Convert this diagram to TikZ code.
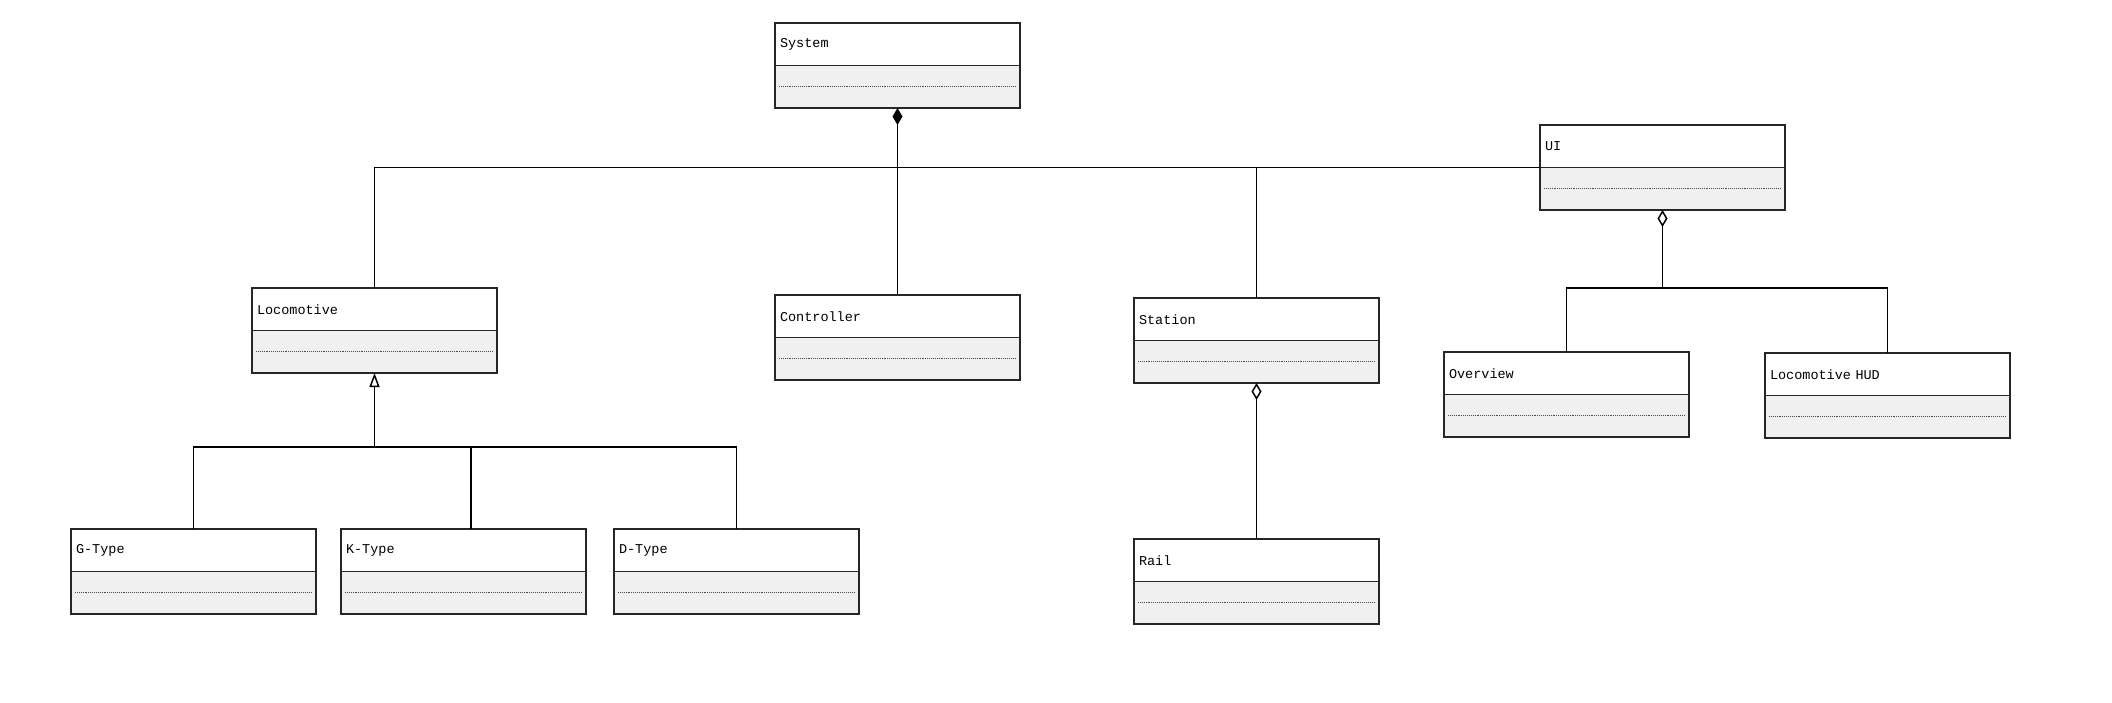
\documentclass[tikz,border=0pt]{standalone}
\usepackage{fontspec}
\setmainfont{Liberation Mono}
\usetikzlibrary{positioning,arrows.meta}
\begin{document}
\begin{tikzpicture}[x=1pt,y=-1pt]
	\tikzstyle{entete}=[draw=black!85,line width=1.3pt,fill=white,outer sep=0pt,anchor=north west,minimum width=245pt,minimum height=42.5pt,text width=235pt,inner xsep=5pt,align=left,font=\fontsize{13.5pt}{16pt}\selectfont]
	\tikzstyle{corps}=[draw=black!85,line width=1.3pt,fill=black!6,outer sep=0pt,minimum width=245pt,minimum height=42.5pt,inner sep=0pt,path picture={\draw[black!70,line width=0.9pt,densely dotted] ([xshift=4pt]path picture bounding box.west) -- ([xshift=-4pt]path picture bounding box.east);}]
	\tikzstyle{lien}=[line width=1.5pt,black]
	\tikzstyle{composition}=[lien,{Diamond[length=17pt,width=10pt]}-]
	\tikzstyle{agregation}=[lien,{Diamond[open,fill=white,length=17pt,width=10pt]}-]
	\tikzstyle{heritage}=[lien,{Triangle[open,fill=white,length=14pt,width=10pt]}-]
	\useasboundingbox (0,0) rectangle (2112,702);
	%
	\node[entete] (Sys) at (775,23) {System};
	\node[corps,below=0pt of Sys] (Sys-c) {};
	\node[entete] (Loco) at (252,288) {Locomotive};
	\node[corps,below=0pt of Loco] (Loco-c) {};
	\node[entete] (Ctrl) at (775,295) {Controller};
	\node[corps,below=0pt of Ctrl] (Ctrl-c) {};
	\node[entete] (Station) at (1134,298) {Station};
	\node[corps,below=0pt of Station] (Station-c) {};
	\node[entete] (UI) at (1540,125) {UI};
	\node[corps,below=0pt of UI] (UI-c) {};
	\node[entete] (Over) at (1444,352) {Overview};
	\node[corps,below=0pt of Over] (Over-c) {};
	\node[entete] (HUD) at (1765,353) {Locomotive HUD};
	\node[corps,below=0pt of HUD] (HUD-c) {};
	\node[entete] (G) at (71,529) {G-Type};
	\node[corps,below=0pt of G] (G-c) {};
	\node[entete] (K) at (341,529) {K-Type};
	\node[corps,below=0pt of K] (K-c) {};
	\node[entete] (D) at (614,529) {D-Type};
	\node[corps,below=0pt of D] (D-c) {};
	\node[entete] (Rail) at (1134,539) {Rail};
	\node[corps,below=0pt of Rail] (Rail-c) {};
	%
	\coordinate (Jonction) at (Loco-c.south |- 0,447);
	\coordinate (JonctionUI) at (UI-c.south |- 0,288);
	%
	\draw[composition] (Sys-c.south) -- (Ctrl.north);
	\draw[lien] (Loco.north) |- (UI.south west);
	\draw[lien] (Station.north) -- (Station.north |- UI.south west);
	\draw[heritage] (Loco-c.south) -- (Jonction);
	\draw[lien] (G.north) |- (Jonction) -| (D.north);
	\draw[lien] ([xshift=7.5pt]K.north) -- ([xshift=7.5pt]K.north |- Jonction);
	\draw[agregation] (Station-c.south) -- (Rail.north);
	\draw[agregation] (UI-c.south) -- (JonctionUI);
	\draw[lien] (Over.north) |- (JonctionUI) -| (HUD.north);
\end{tikzpicture}
\end{document}
